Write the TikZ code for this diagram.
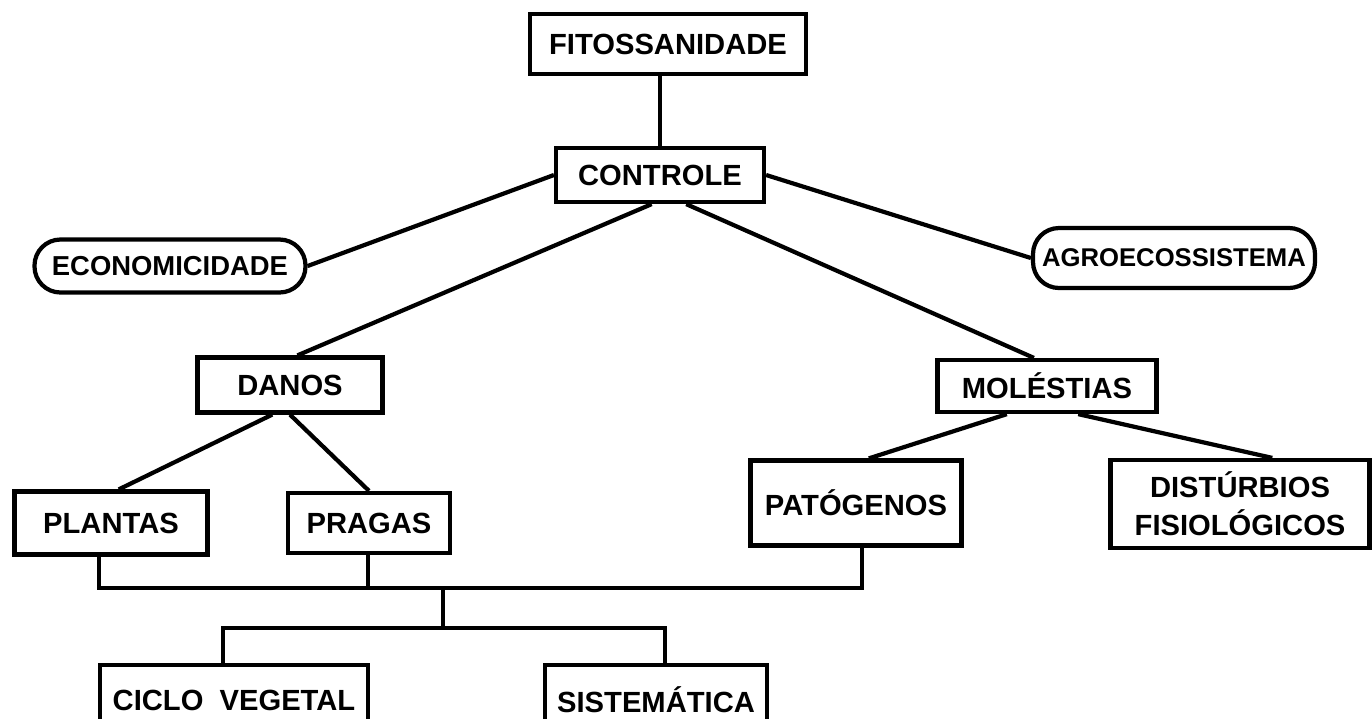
\documentclass[tikz,border=0pt]{standalone}
\usepackage{fontspec}
\setmainfont{Liberation Sans}

\begin{document}
\begin{tikzpicture}[line width=1.2pt,
	box/.style={draw, inner sep=0pt, align=center, font=\bfseries\fontsize{8.3}{10.8}\selectfont},
	roundbox/.style={box, rounded corners=0.26cm}]
\clip (0,0) rectangle (13.72,-7.18);
\node [box, minimum width=2.76cm, minimum height=0.60cm] (fito) at (6.68,-0.44) {FITOSSANIDADE};
\node [box, minimum width=2.08cm, minimum height=0.54cm] (ctrl) at (6.60,-1.75) {CONTROLE};
\node [roundbox, minimum width=2.71cm, minimum height=0.53cm, font=\bfseries\fontsize{7.8}{9}\selectfont] (econ) at (1.70,-2.66) {ECONOMICIDADE};
\node [roundbox, minimum width=2.82cm, minimum height=0.60cm, font=\bfseries\fontsize{7.3}{9}\selectfont] (agro) at (11.74,-2.58) {AGROECOSSISTEMA};
\node [box, minimum width=1.85cm, minimum height=0.55cm] (danos) at (2.90,-3.85) {DANOS};
\node [box, minimum width=2.19cm, minimum height=0.52cm] (mol) at (10.47,-3.86) {MOLÉSTIAS};
\node [box, minimum width=1.93cm, minimum height=0.63cm] (plantas) at (1.11,-5.23) {PLANTAS};
\node [box, minimum width=1.62cm, minimum height=0.60cm] (pragas) at (3.69,-5.23) {PRAGAS};
\node [box, minimum width=2.11cm, minimum height=0.85cm] (pato) at (8.56,-5.03) {PATÓGENOS};
\node [box, minimum width=2.59cm, minimum height=0.88cm] (dist) at (12.40,-5.04) {DISTÚRBIOS\\FISIOLÓGICOS};
\node [box, minimum width=2.68cm, minimum height=0.70cm] (ciclo) at (2.34,-7.00) {CICLO\ \ VEGETAL};
\node [box, minimum width=2.22cm, minimum height=0.70cm] (sist) at (6.56,-7.00) {SISTEMÁTICA};

\coordinate (j1) at (0.99,-5.88);
\coordinate (j2) at (3.68,-5.88);
\coordinate (j3) at (8.62,-5.88);
\coordinate (j4) at (4.43,-5.88);
\coordinate (j5) at (4.43,-6.28);
\coordinate (j6) at (2.23,-6.28);
\coordinate (j7) at (6.65,-6.28);

\draw (fito.south -| ctrl) -- (ctrl.north);
\foreach \from/\to in {ctrl.west/econ.east, ctrl.east/agro.west, ctrl.-106/danos.76,
	ctrl.-48/mol.115, danos.-121/plantas.77, danos.south/pragas.north,
	mol.-145/pato.74, mol.-42/dist.55}
	\draw (\from) -- (\to);
\draw (plantas.south -| j1) -- (j1) -- (j3) -- (pato.south -| j3);
\draw (pragas.south -| j2) -- (j2);
\draw (j4) -- (j5);
\draw (ciclo.north -| j6) -- (j6) -- (j7) -- (sist.north -| j7);
\end{tikzpicture}
\end{document}
